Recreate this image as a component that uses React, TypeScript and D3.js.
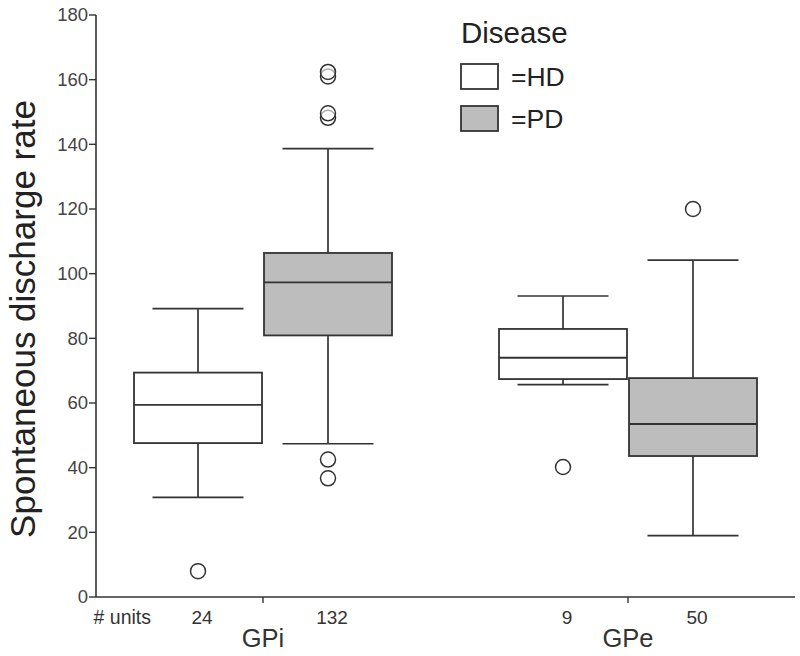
import React from "react";
import * as d3 from "d3";

const groups = ["GPi", "GPe"];
const diseases = ["HD", "PD"];
const units = [24, 132, 9, 50];
const whiskerLow = [30.8, 47.4, 65.7, 19];
const q1 = [47.6, 80.9, 67.4, 43.6];
const medians = [59.4, 97.3, 74, 53.5];
const q3 = [69.4, 106.4, 82.9, 67.7];
const whiskerHigh = [89.2, 138.7, 93.1, 104.2];
const outliers = [[8], [42.5, 36.7, 148.2, 149.6, 161, 162.4], [40.2], [120]];
const yTicks = [0, 20, 40, 60, 80, 100, 120, 140, 160, 180];
const fills = { HD: "#ffffff", PD: "#bdbdbd" };

const W = 800;
const H = 656;
const FONT = "'Liberation Sans', Arial, sans-serif";
const INK = "#333333";

export default function App() {
  const y = d3.scaleLinear().domain([0, 180]).range([597, 15]);
  const xg = d3.scaleBand().domain(groups).range([80.5, 810.5]).padding(0);
  const xi = d3.scaleBand().domain(diseases).range([-130, 130]).padding(0);
  const axisX = 96;
  const axisRight = 795;

  const boxes = groups.flatMap((g, gi) =>
    diseases.map((dz, di) => {
      const idx = gi * 2 + di;
      const center = xg(g)! + xg.bandwidth() / 2;
      const left = center + xi(dz)!;
      const bw = xi.bandwidth();
      return { g, dz, idx, left, bw, cx: left + bw / 2 };
    })
  );

  return (
    <svg width={W} height={H} style={{ position: "absolute", left: 0, top: 0, background: "#fff" }} fontFamily={FONT}>
      <rect x={0} y={0} width={W} height={H} fill="#fff" />
      {/* y axis */}
      <line x1={axisX} x2={axisX} y1={y(180)} y2={y(0)} stroke={INK} strokeWidth={1.6} />
      {yTicks.map((t) => (
        <g key={t}>
          <line x1={axisX - 7} x2={axisX} y1={y(t)} y2={y(t)} stroke={INK} strokeWidth={1.4} />
          <text x={axisX - 8} y={y(t)} dy="0.35em" textAnchor="end" fontSize={18.5} fill="#444">
            {t}
          </text>
        </g>
      ))}
      {/* x axis */}
      <line x1={axisX} x2={axisRight} y1={y(0)} y2={y(0)} stroke={INK} strokeWidth={1.6} />
      {groups.map((g) => {
        const c = xg(g)! + xg.bandwidth() / 2;
        return (
          <g key={g}>
            <line x1={c} x2={c} y1={y(0)} y2={y(0) + 6} stroke={INK} strokeWidth={1.4} />
            <text x={c} y={647} textAnchor="middle" fontSize={25.5} fill="#333">
              {g}
            </text>
          </g>
        );
      })}
      <text x={151} y={624} textAnchor="end" fontSize={19.5} fill="#333">
        # units
      </text>
      {boxes.map((b) => (
        <text key={"u" + b.idx} x={b.cx + 4} y={624} textAnchor="middle" fontSize={19} fill="#333">
          {units[b.idx]}
        </text>
      ))}
      {/* y title */}
      <text transform={`translate(35, 319) rotate(-90)`} textAnchor="middle" fontSize={35} fill="#222">
        Spontaneous discharge rate
      </text>
      {/* boxes */}
      {boxes.map((b) => {
        const capW = b.bw * 0.7;
        const i = b.idx;
        return (
          <g key={"b" + i}>
            <line x1={b.cx} x2={b.cx} y1={y(whiskerHigh[i])} y2={y(q3[i])} stroke={INK} strokeWidth={1.7} />
            <line x1={b.cx} x2={b.cx} y1={y(q1[i])} y2={y(whiskerLow[i])} stroke={INK} strokeWidth={1.7} />
            <line x1={b.cx - capW / 2} x2={b.cx + capW / 2} y1={y(whiskerHigh[i])} y2={y(whiskerHigh[i])} stroke={INK} strokeWidth={1.7} />
            <line x1={b.cx - capW / 2} x2={b.cx + capW / 2} y1={y(whiskerLow[i])} y2={y(whiskerLow[i])} stroke={INK} strokeWidth={1.7} />
            <rect
              x={b.left + 1}
              y={y(q3[i])}
              width={b.bw - 2}
              height={y(q1[i]) - y(q3[i])}
              fill={fills[b.dz as "HD" | "PD"]}
              stroke={INK}
              strokeWidth={1.8}
            />
            <line x1={b.left + 1} x2={b.left + b.bw - 1} y1={y(medians[i])} y2={y(medians[i])} stroke={INK} strokeWidth={1.8} />
            {outliers[i].map((o, k) => (
              <circle key={k} cx={b.cx} cy={y(o)} r={7.5} fill="#fff" fillOpacity={0.6} stroke={INK} strokeWidth={1.5} />
            ))}
          </g>
        );
      })}
      {/* legend */}
      <text x={461} y={43} fontSize={29.5} fill="#222">
        Disease
      </text>
      {diseases.map((dz, i) => (
        <g key={dz}>
          <rect x={461} y={64 + i * 42} width={37} height={25} fill={fills[dz as "HD" | "PD"]} stroke={INK} strokeWidth={1.8} />
          <text x={511} y={86 + i * 42} fontSize={26.5} fill="#222">
            {"=" + dz}
          </text>
        </g>
      ))}
    </svg>
  );
}
